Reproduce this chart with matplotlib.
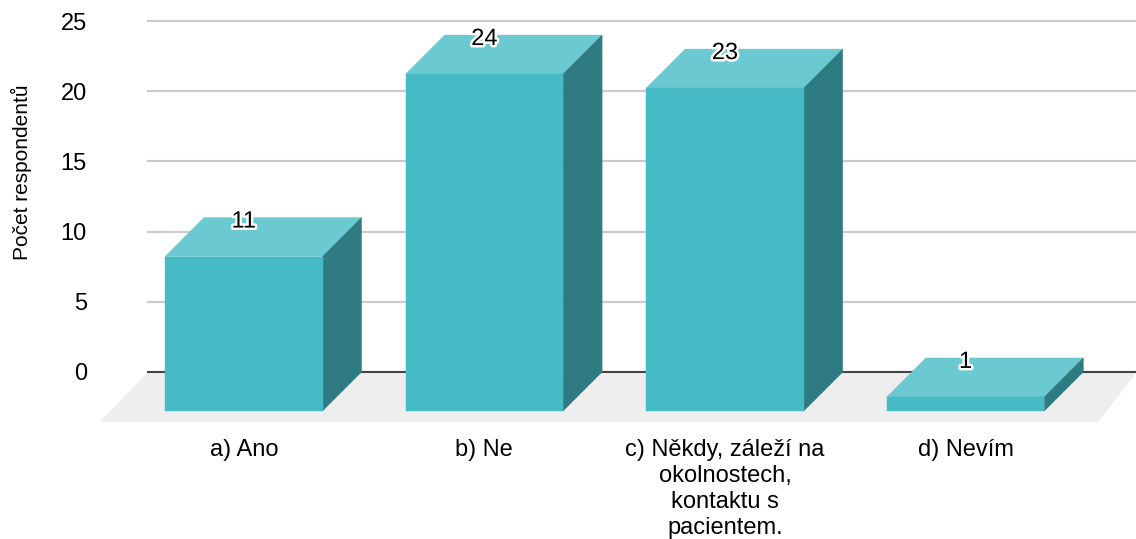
import matplotlib
matplotlib.use("Agg")
import matplotlib.pyplot as plt
import matplotlib.patheffects as pe

plt.rcParams['font.family'] = ['Liberation Sans', 'DejaVu Sans']

categories = ["a) Ano", "b) Ne", "c) Někdy, záleží na\nokolnostech,\nkontaktu s\npacientem.", "d) Nevím"]
values = [11, 24, 23, 1]
yticks = [0, 5, 10, 15, 20, 25]

W, H = 1136, 539
fig = plt.figure(figsize=(W/100, H/100), dpi=100)
# plot area in pixels: x 148-1137, y 21-372
ax = fig.add_axes([148/W, 1-372/H, 989/W, 351/H])

x_step = 240.6     # px per category
y_step = 351/25    # px per unit
ax.set_xlim(-95.75/x_step, (989-95.75)/x_step)
ax.set_ylim(0, 25)

# depth of the fake 3d
dx = 39/x_step
dy = 39/y_step
width = 157.5/x_step
xs = list(range(len(values)))

# floor
x0, x1 = ax.get_xlim()
ax.fill([x0, x1, x1-dx, x0-48/x_step], [0, 0, -50/y_step, -50/y_step], color="#eeeeee", lw=0, zorder=1, clip_on=False)

ax.yaxis.grid(True, color="#cccccc", lw=1.6, zorder=0, clip_on=False)
ax.set_axisbelow(True)
ax.axhline(0, color="#444444", lw=1.5, zorder=2, clip_on=False)

for s in ax.spines.values():
    s.set_visible(False)

for x, v in zip(xs, values):
    left = x-width/2
    right = x+width/2
    # front, top, side
    ax.fill([left, right, right+dx, left+dx], [v-dy, v-dy, v, v], color="#6bc9d2", lw=0.3, zorder=3, clip_on=False)
    ax.fill([right, right+dx, right+dx, right], [-dy, 0, v, v-dy], color="#2e7b82", lw=0.3, zorder=3, clip_on=False)
    ax.bar(x, v, width, bottom=-dy, color="#46bbc6", edgecolor="#46bbc6", lw=0.3, zorder=4, clip_on=False)
    ax.text(x, v-4/y_step, str(v), ha="center", va="center", fontsize=17, color="black", zorder=5,
            path_effects=[pe.withStroke(linewidth=3.5, foreground="white")])

ax.set_yticks(yticks)
ax.set_xticks(xs)
ax.set_xticklabels(categories, fontsize=17, color="black", linespacing=1.25)
ax.tick_params(axis="x", length=0, pad=48)
ax.tick_params(axis="y", length=0, pad=44, labelsize=17, labelcolor="black")

ax.set_ylabel("Počet respondentů", fontsize=15, color="black")
ax.yaxis.set_label_coords(-116/989, 0.57)

fig.savefig("out.png", dpi=100)
